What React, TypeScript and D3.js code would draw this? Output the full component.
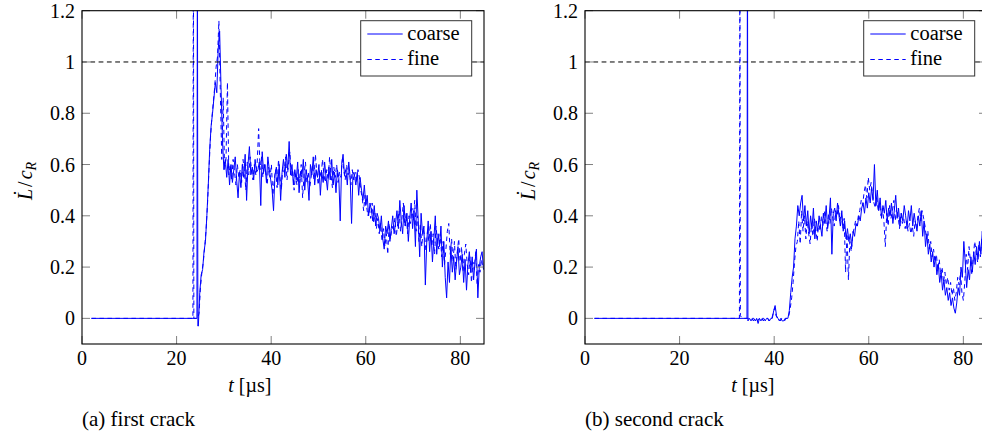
import * as d3 from 'd3';

const X_TICKS = [0, 20, 40, 60, 80];
const Y_TICKS = [0, 0.2, 0.4, 0.6, 0.8, 1, 1.2];
const Y_TICK_LABELS = ['0', '0.2', '0.4', '0.6', '0.8', '1', '1.2'];
const SERIES_NAMES = ['coarse', 'fine'];
const CAPTIONS = ['(a) first crack', '(b) second crack'];
const REFERENCE_LEVEL = 1;
const STEP = 0.3; // µs between samples of the noisy part

// (a) first crack
const firstCoarseHead: [number, number][] = [[2, 0], [24.3, 0], [24.4, 1.6], [24.5, -0.03]];
const firstCoarseStart = 24.6;
const firstCoarse = [
  -0.03, 0.10, 0.17, 0.19, 0.26, 0.30, 0.40, 0.52, 0.66, 0.75,
  0.80, 0.86, 0.92, 0.88, 1.05, 1.12, 0.90, 0.70, 0.58, 0.62,
  0.55, 0.62, 0.52, 0.60, 0.53, 0.58, 0.63, 0.54, 0.47, 0.57,
  0.51, 0.60, 0.55, 0.64, 0.46, 0.60, 0.67, 0.56, 0.59, 0.54,
  0.62, 0.57, 0.58, 0.61, 0.44, 0.65, 0.57, 0.60, 0.53, 0.63,
  0.58, 0.54, 0.50, 0.42, 0.56, 0.59, 0.52, 0.60, 0.46, 0.57,
  0.62, 0.55, 0.64, 0.58, 0.69, 0.56, 0.60, 0.52, 0.58, 0.54,
  0.61, 0.49, 0.57, 0.55, 0.62, 0.50, 0.58, 0.54, 0.46, 0.60,
  0.56, 0.63, 0.52, 0.58, 0.55, 0.60, 0.48, 0.57, 0.53, 0.61,
  0.55, 0.50, 0.59, 0.54, 0.62, 0.52, 0.57, 0.49, 0.58, 0.55,
  0.38, 0.60, 0.64, 0.56, 0.58, 0.52, 0.61, 0.55, 0.37, 0.57,
  0.56, 0.52, 0.57, 0.48, 0.55, 0.50, 0.46, 0.52, 0.44, 0.48,
  0.40, 0.45, 0.42, 0.38, 0.44, 0.36, 0.41, 0.39, 0.34, 0.40,
  0.31, 0.27, 0.36, 0.33, 0.38, 0.30, 0.35, 0.40, 0.33, 0.37,
  0.42, 0.35, 0.46, 0.38, 0.33, 0.44, 0.36, 0.41, 0.30, 0.39,
  0.45, 0.35, 0.42, 0.28, 0.50, 0.38, 0.24, 0.41, 0.33, 0.36,
  0.13, 0.30, 0.38, 0.26, 0.34, 0.22, 0.31, 0.40, 0.25, 0.33,
  0.28, 0.36, 0.20, 0.30, 0.16, 0.08, 0.22, 0.14, 0.28, 0.18,
  0.24, 0.15, 0.22, 0.28, 0.17, 0.20, 0.25, 0.14, 0.23, 0.11,
  0.21, 0.26, 0.18, 0.24, 0.15, 0.22, 0.27, 0.08, 0.20, 0.24, 0.26, 0.19,
];
const firstFineHead: [number, number][] = [[2, 0], [23.45, 0], [23.55, 1.6], [23.65, 0], [24.45, 0]];
const firstFineStart = 24.75;
const firstFine = [
  0.02, 0.12, 0.18, 0.22, 0.28, 0.35, 0.45, 0.58, 0.70, 0.78,
  0.84, 0.90, 0.98, 1.02, 1.16, 0.88, 0.62, 0.86, 0.58, 0.62,
  0.92, 0.56, 0.60, 0.54, 0.62, 0.57, 0.52, 0.60, 0.55, 0.58,
  0.53, 0.62, 0.57, 0.50, 0.61, 0.56, 0.63, 0.58, 0.54, 0.60,
  0.56, 0.61, 0.74, 0.58, 0.63, 0.55, 0.60, 0.57, 0.52, 0.59,
  0.55, 0.60, 0.48, 0.54, 0.58, 0.51, 0.62, 0.55, 0.50, 0.59,
  0.57, 0.63, 0.54, 0.60, 0.65, 0.55, 0.58, 0.50, 0.56, 0.52,
  0.58, 0.53, 0.60, 0.47, 0.56, 0.61, 0.53, 0.57, 0.51, 0.55,
  0.60, 0.54, 0.64, 0.57, 0.52, 0.58, 0.55, 0.62, 0.56, 0.53,
  0.58, 0.54, 0.63, 0.56, 0.51, 0.59, 0.55, 0.60, 0.53, 0.57,
  0.55, 0.62, 0.58, 0.54, 0.60, 0.56, 0.57, 0.52, 0.58, 0.54,
  0.57, 0.53, 0.58, 0.55, 0.50, 0.47, 0.42, 0.48, 0.44, 0.40,
  0.43, 0.39, 0.45, 0.37, 0.41, 0.35, 0.39, 0.33, 0.37, 0.30,
  0.35, 0.28, 0.33, 0.25, 0.37, 0.31, 0.36, 0.34, 0.39, 0.32,
  0.37, 0.42, 0.34, 0.39, 0.45, 0.36, 0.41, 0.33, 0.40, 0.37,
  0.43, 0.38, 0.46, 0.34, 0.40, 0.30, 0.37, 0.28, 0.35, 0.32,
  0.26, 0.34, 0.30, 0.37, 0.28, 0.33, 0.25, 0.36, 0.30, 0.27,
  0.33, 0.24, 0.30, 0.21, 0.27, 0.34, 0.37, 0.25, 0.31, 0.22,
  0.30, 0.19, 0.26, 0.31, 0.22, 0.28, 0.18, 0.25, 0.29, 0.21,
  0.17, 0.24, 0.14, 0.22, 0.19, 0.26, 0.13, 0.21, 0.18, 0.23, 0.20,
];

// (b) second crack
const secondCoarseHead: [number, number][] = [[2, 0], [34.25, 0], [34.35, 1.6], [34.45, -0.01]];
const secondCoarseStart = 34.8;
const secondCoarse = [
  0.00, -0.01, 0.00, 0.00, -0.01, 0.00, -0.02, 0.00, -0.01, 0.00,
  0.00, -0.01, 0.00, 0.00, -0.01, 0.00, 0.00, 0.03, 0.05, 0.01,
  0.00, -0.01, 0.00, -0.01, -0.01, 0.00, 0.00, 0.00, 0.03, 0.10,
  0.16, 0.20, 0.31, 0.36, 0.44, 0.40, 0.45, 0.48, 0.38, 0.44,
  0.36, 0.42, 0.33, 0.40, 0.35, 0.43, 0.31, 0.38, 0.34, 0.40,
  0.36, 0.32, 0.41, 0.37, 0.44, 0.35, 0.39, 0.47, 0.25, 0.41,
  0.43, 0.38, 0.45, 0.40, 0.36, 0.42, 0.34, 0.38, 0.31, 0.35,
  0.30, 0.33, 0.28, 0.34, 0.32, 0.37, 0.36, 0.40, 0.38, 0.43,
  0.45, 0.41, 0.47, 0.43, 0.49, 0.45, 0.51, 0.46, 0.60, 0.44,
  0.50, 0.42, 0.47, 0.39, 0.44, 0.41, 0.46, 0.38, 0.43, 0.40,
  0.45, 0.37, 0.42, 0.48, 0.39, 0.43, 0.36, 0.41, 0.38, 0.44,
  0.40, 0.35, 0.42, 0.38, 0.44, 0.36, 0.41, 0.37, 0.34, 0.40,
  0.36, 0.42, 0.32, 0.38, 0.28, 0.33, 0.25, 0.29, 0.22, 0.26,
  0.20, 0.24, 0.17, 0.21, 0.14, 0.18, 0.11, 0.15, 0.09, 0.12,
  0.07, 0.10, 0.05, 0.08, 0.04, 0.02, 0.06, 0.12, 0.09, 0.20,
  0.16, 0.30, 0.22, 0.12, 0.19, 0.15, 0.24, 0.18, 0.26, 0.21, 0.28,
  0.23, 0.30, 0.25, 0.34, 0.27, 0.31, 0.35,
];
const secondFineHead: [number, number][] = [[2, 0], [32.65, 0], [32.75, 1.6], [32.85, 0.01], [33.3, 0]];
const secondFineStart = 35.0;
const secondFine = [
  0.00, 0.00, -0.01, 0.00, 0.00, -0.01, 0.00, 0.00, 0.00, -0.01,
  0.00, 0.00, 0.00, -0.01, 0.00, 0.00, 0.02, 0.04, 0.01, 0.00,
  0.00, -0.01, 0.00, 0.00, -0.01, 0.00, 0.00, 0.01, 0.04, 0.08,
  0.14, 0.22, 0.28, 0.30, 0.38, 0.29, 0.42, 0.34, 0.40, 0.31,
  0.38, 0.33, 0.29, 0.37, 0.32, 0.39, 0.35, 0.30, 0.38, 0.34,
  0.40, 0.36, 0.42, 0.38, 0.34, 0.41, 0.37, 0.43, 0.39, 0.36,
  0.42, 0.40, 0.44, 0.38, 0.41, 0.35, 0.39, 0.18, 0.33, 0.15,
  0.30, 0.26, 0.33, 0.35, 0.38, 0.36, 0.40, 0.42, 0.46, 0.44,
  0.49, 0.52, 0.47, 0.55, 0.50, 0.53, 0.48, 0.45, 0.43, 0.47,
  0.42, 0.45, 0.40, 0.43, 0.38, 0.28, 0.41, 0.36, 0.44, 0.39,
  0.42, 0.46, 0.38, 0.43, 0.40, 0.35, 0.41, 0.37, 0.39, 0.35,
  0.38, 0.34, 0.37, 0.33, 0.36, 0.32, 0.38, 0.35, 0.40, 0.43,
  0.38, 0.42, 0.39, 0.36, 0.31, 0.34, 0.27, 0.30, 0.24, 0.27,
  0.22, 0.25, 0.19, 0.23, 0.17, 0.20, 0.14, 0.18, 0.13, 0.16,
  0.11, 0.14, 0.09, 0.12, 0.07, 0.10, 0.16, 0.13, 0.18, 0.10,
  0.07, 0.14, 0.25, 0.19, 0.28, 0.22, 0.17, 0.24, 0.30, 0.26,
  0.22, 0.29, 0.24, 0.31, 0.27, 0.25, 0.30, 0.28,
];

const trace = (head: [number, number][], start: number, vals: number[]): [number, number][] => [
  ...head,
  ...vals.map((v, i) => [start + i * STEP, v] as [number, number]),
];

const W = 982;
const H = 436;
const PANEL_X = [82, 585];
const PLOT_W = 402;
const TOP = 10.7;
const BOTTOM = 344;
const FONT = "'Liberation Serif', 'Times New Roman', 'DejaVu Serif', serif";
const BLUE = '#0000ff';
const TICK_LEN = 8;

function Panel({ idx, coarse, fine }: { idx: number; coarse: [number, number][]; fine: [number, number][] }) {
  const x0 = PANEL_X[idx];
  const x = d3.scaleLinear().domain([0, 85]).range([x0, x0 + PLOT_W]);
  const y = d3.scaleLinear().domain([-0.1, 1.2]).range([BOTTOM, TOP]);
  const line = d3.line<[number, number]>().x((d) => x(d[0])).y((d) => y(d[1]));
  const clipId = `clip-${idx}`;
  const lx = x0 + 278.7;
  const ly = 20.7;

  return (
    <g style={{ fontFamily: FONT }}>
      <defs>
        <clipPath id={clipId}>
          <rect x={x0} y={TOP} width={PLOT_W} height={BOTTOM - TOP} />
        </clipPath>
      </defs>
      <g clipPath={`url(#${clipId})`}>
        <path d={line(coarse) ?? ''} fill="none" stroke={BLUE} strokeWidth={1} strokeLinejoin="round" />
        <path d={line(fine) ?? ''} fill="none" stroke={BLUE} strokeWidth={1} strokeDasharray="4.5,3.5" />
        <line x1={x(0)} x2={x(85)} y1={y(REFERENCE_LEVEL)} y2={y(REFERENCE_LEVEL)} stroke="#000" strokeWidth={1} strokeDasharray="4.8,3.5" />
      </g>

      {/* ticks on all four sides, pointing inward */}
      {X_TICKS.map((t) => (
        <g key={`x${t}`} stroke="#808080" strokeWidth={1}>
          <line x1={x(t)} x2={x(t)} y1={BOTTOM} y2={BOTTOM - TICK_LEN} />
          <line x1={x(t)} x2={x(t)} y1={TOP} y2={TOP + TICK_LEN} />
        </g>
      ))}
      {Y_TICKS.map((t) => (
        <g key={`y${t}`} stroke="#808080" strokeWidth={1}>
          <line x1={x0} x2={x0 + TICK_LEN} y1={y(t)} y2={y(t)} />
          <line x1={x0 + PLOT_W} x2={x0 + PLOT_W - TICK_LEN} y1={y(t)} y2={y(t)} />
        </g>
      ))}
      <rect x={x0} y={TOP} width={PLOT_W} height={BOTTOM - TOP} fill="none" stroke="#000" strokeWidth={1.1} />

      {X_TICKS.map((t) => (
        <text key={`xl${t}`} x={x(t)} y={365} textAnchor="middle" fontSize={20} fill="#000">
          {t}
        </text>
      ))}
      {Y_TICKS.map((t, i) => (
        <text key={`yl${t}`} x={x0 - 7} y={y(t) + 7} textAnchor="end" fontSize={20} fill="#000">
          {Y_TICK_LABELS[i]}
        </text>
      ))}

      <text x={x(35.5)} y={392} textAnchor="middle" fontSize={20} fill="#000">
        <tspan fontStyle="italic">t</tspan> [µs]
      </text>

      <g transform={`translate(${x0 - 50},200) rotate(-90)`} fontSize={20} fill="#000">
        <text x={0} y={0}>
          <tspan fontStyle="italic">L</tspan>
          <tspan dx={2}>/</tspan>
          <tspan dx={2} fontStyle="italic">c</tspan>
          <tspan fontStyle="italic" fontSize={14} dy={4}>R</tspan>
        </text>
        <text x={2.5} y={-4} fontStyle="italic">˙</text>
      </g>

      <text x={x0} y={426} fontSize={21} fill="#000">
        {CAPTIONS[idx]}
      </text>

      <g>
        <rect x={lx} y={ly} width={111} height={55.3} fill="#fff" stroke="#333" strokeWidth={1} />
        {SERIES_NAMES.map((name, i) => (
          <g key={name}>
            <line
              x1={lx + 6.6}
              x2={lx + 42}
              y1={ly + 13.3 + i * 25.5}
              y2={ly + 13.3 + i * 25.5}
              stroke={BLUE}
              strokeWidth={1}
              strokeDasharray={i === 1 ? '4.5,3.5' : undefined}
            />
            <text x={lx + 46.6} y={ly + 18.8 + i * 25.5} fontSize={20.5} fill="#000">
              {name}
            </text>
          </g>
        ))}
      </g>
    </g>
  );
}

export default function App() {
  const first = { coarse: trace(firstCoarseHead, firstCoarseStart, firstCoarse), fine: trace(firstFineHead, firstFineStart, firstFine) };
  const second = { coarse: trace(secondCoarseHead, secondCoarseStart, secondCoarse), fine: trace(secondFineHead, secondFineStart, secondFine) };
  return (
    <svg width={W} height={H} style={{ position: 'fixed', left: 0, top: 0, background: '#fff' }}>
      <Panel idx={0} coarse={first.coarse} fine={first.fine} />
      <Panel idx={1} coarse={second.coarse} fine={second.fine} />
    </svg>
  );
}
